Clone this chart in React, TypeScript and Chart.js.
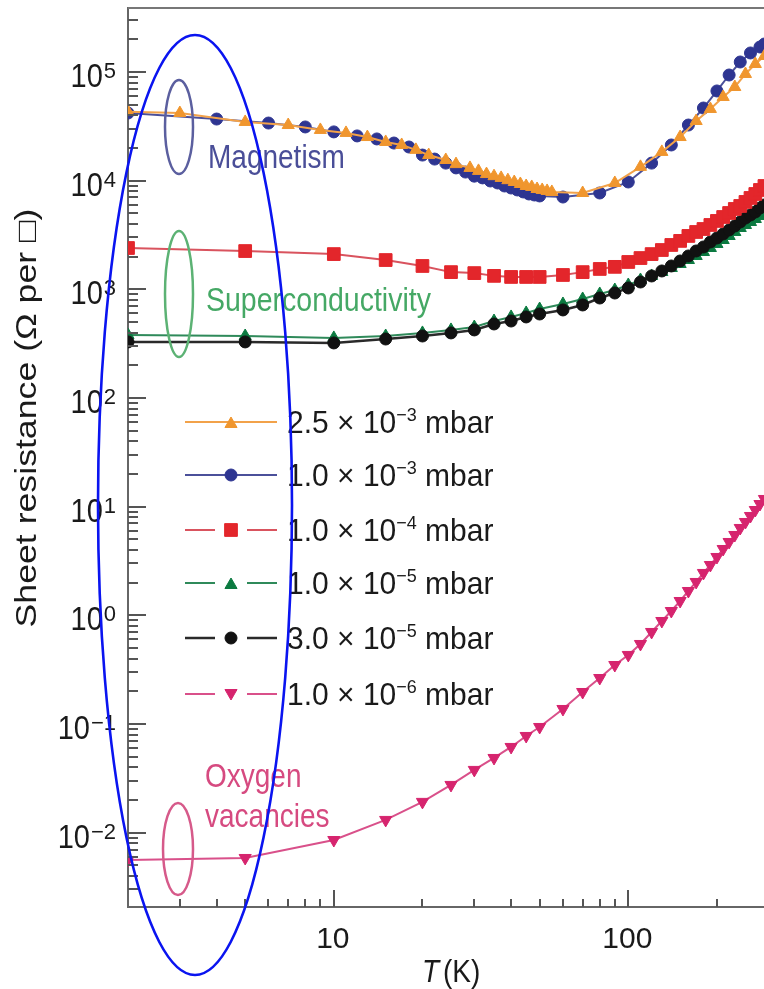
import React, { useEffect, useRef } from "react";
import { Chart, registerables } from "chart.js";
import { drawPoint } from "chart.js/helpers";

Chart.register(...registerables);

const FONT = '"Liberation Sans", Arial, Helvetica, sans-serif';

// ---------------- data (T in K, sheet resistance in ohm per square) ----------------
const tOrange = [2, 3, 5, 7, 9, 11, 13, 15, 17, 19, 21, 24, 26, 29, 31, 33, 35, 37, 39, 41, 43, 45, 47, 49, 51, 53, 55, 70, 90, 110, 130, 150, 170, 190, 210, 230, 250, 270, 290];
const rOrange = [43000, 41900, 34700, 32500, 29300, 27500, 25200, 22700, 21300, 19200, 17200, 15500, 14200, 13100, 12300, 11500, 11000, 10600, 10100, 9720, 9320, 8930, 8750, 8380, 8210, 8040, 7870, 7700, 9520, 13400, 18400, 25200, 35400, 45700, 58900, 72800, 95900, 118500, 140400];

const tBlue = [2, 4, 6, 8, 10, 12, 14, 16, 18, 20, 22, 24, 26, 28, 30, 32, 34, 36, 38, 40, 42, 44, 46, 48, 50, 60, 80, 100, 120, 140, 160, 180, 200, 220, 240, 260, 280, 290];
const rBlue = [41900, 36900, 33900, 31200, 28100, 25800, 24200, 22200, 20400, 17200, 15800, 14500, 13100, 12000, 11000, 10600, 9930, 9520, 8930, 8560, 8210, 7870, 7540, 7380, 7230, 7070, 7700, 9720, 14500, 21300, 32500, 46600, 66900, 93800, 123600, 149600, 169800, 181000];

const tRed = [2, 5, 10, 15, 20, 25, 30, 35, 40, 45, 50, 60, 70, 80, 90, 100, 110, 120, 130, 140, 150, 160, 170, 180, 190, 200, 210, 220, 230, 240, 250, 260, 270, 280, 290];
const rRed = [2400, 2250, 2110, 1860, 1640, 1440, 1410, 1330, 1300, 1300, 1300, 1355, 1440, 1540, 1610, 1785, 1940, 2110, 2300, 2560, 2790, 3100, 3370, 3590, 3910, 4260, 4630, 5040, 5490, 5850, 6370, 6930, 7540, 8210, 8930];

const tGreen = [2, 5, 10, 15, 20, 25, 30, 35, 40, 45, 50, 60, 70, 80, 90, 100, 110, 120, 130, 140, 150, 160, 170, 180, 190, 200, 210, 220, 230, 240, 250, 260, 270, 280, 290];
const rGreen = [380, 372, 357, 372, 397, 423, 450, 511, 557, 606, 659, 733, 815, 906, 986, 1096, 1219, 1327, 1444, 1572, 1711, 1862, 2027, 2206, 2401, 2614, 2844, 3096, 3371, 3669, 3909, 4166, 4439, 4731, 5040];

const tBlack = [2, 5, 10, 15, 20, 25, 30, 35, 40, 45, 50, 60, 70, 80, 90, 100, 110, 120, 130, 140, 150, 160, 170, 180, 190, 200, 210, 220, 230, 240, 250, 260, 270, 280, 290];
const rBlack = [328, 328, 321, 349, 372, 397, 423, 480, 511, 557, 593, 646, 718, 832, 925, 1029, 1168, 1327, 1475, 1640, 1823, 2027, 2253, 2453, 2727, 2968, 3230, 3516, 3827, 4166, 4534, 4833, 5150, 5604, 5973];

const tMagenta = [2, 5, 10, 15, 20, 25, 30, 35, 40, 45, 50, 60, 70, 80, 90, 100, 110, 120, 130, 140, 150, 160, 170, 180, 190, 200, 210, 220, 230, 240, 250, 260, 270, 280, 290];
const rMagenta = [0.00561, 0.00585, 0.00856, 0.0131, 0.0192, 0.0275, 0.0378, 0.0487, 0.0615, 0.0776, 0.0939, 0.1375, 0.197, 0.265, 0.349, 0.432, 0.545, 0.703, 0.887, 1.096, 1.355, 1.675, 2.028, 2.454, 2.906, 3.443, 4.078, 4.732, 5.488, 6.366, 7.228, 8.21, 9.32, 10.58, 11.77];

const legendMantissas = ["2.5", "1.0", "1.0", "1.0", "3.0", "1.0"];
const legendExponents = ["\u22123", "\u22123", "\u22124", "\u22125", "\u22125", "\u22126"];
const yDecades = [5, 4, 3, 2, 1, 0, -1, -2];
const xMajorTicks = [10, 100];
const xMinorTicks = [3, 4, 5, 6, 7, 8, 9, 20, 30, 40, 50, 60, 70, 80, 90, 200];

const X_MIN = 2;
const X_MAX = 289;
const Y_MIN = 2.07e-3;
const Y_MAX = 3.88e5;

// ---------------- styles ----------------
const seriesStyles = [
  { color: "#f0962e", line: "#f2a24a", style: "triangle", radius: 7, rot: 0, lw: 2, order: 0, gap: false },
  { color: "#2e3591", line: "#4b509a", style: "circle", radius: 6, rot: 0, lw: 2, order: 1, gap: false },
  { color: "#e3262b", line: "#d9535e", style: "rect", radius: 9, rot: 0, lw: 2, order: 2, gap: true },
  { color: "#0b7a40", line: "#2f8a5a", style: "triangle", radius: 7, rot: 0, lw: 2, order: 4, gap: true },
  { color: "#111111", line: "#2a2a2a", style: "circle", radius: 6, rot: 0, lw: 2.5, order: 3, gap: true },
  { color: "#d6246e", line: "#d9508a", style: "triangle", radius: 7, rot: 180, lw: 2, order: 5, gap: true },
];
const seriesData = [
  [tOrange, rOrange],
  [tBlue, rBlue],
  [tRed, rRed],
  [tGreen, rGreen],
  [tBlack, rBlack],
  [tMagenta, rMagenta],
];

function pts(t: number[], r: number[]) {
  return t.map((x, i) => ({ x, y: r[i] }));
}

function text(ctx: CanvasRenderingContext2D, s: string, x: number, y: number, size: number, k: number, align: CanvasTextAlign, color: string, style = "") {
  ctx.save();
  ctx.translate(x, y);
  ctx.scale(1, k);
  ctx.font = `${style} ${size}px ${FONT}`;
  ctx.textAlign = align;
  ctx.textBaseline = "alphabetic";
  ctx.fillStyle = color;
  ctx.fillText(s, 0, 0);
  const w = ctx.measureText(s).width;
  ctx.restore();
  return w;
}

function ellipse(ctx: CanvasRenderingContext2D, cx: number, cy: number, rx: number, ry: number, color: string, lw: number) {
  ctx.save();
  ctx.beginPath();
  ctx.ellipse(cx, cy, rx, ry, 0, 0, Math.PI * 2);
  ctx.strokeStyle = color;
  ctx.lineWidth = lw;
  ctx.stroke();
  ctx.restore();
}

function seg(ctx: CanvasRenderingContext2D, x1: number, y1: number, x2: number, y2: number) {
  ctx.beginPath();
  ctx.moveTo(x1, y1);
  ctx.lineTo(x2, y2);
  ctx.stroke();
}

const LEGEND_Y = [422, 475, 530, 583, 638, 694];

const overlayPlugin = {
  id: "overlay",
  afterDatasetsDraw(chart: any) {
    const ctx: CanvasRenderingContext2D = chart.ctx;
    // annotations
    ellipse(ctx, 179, 127, 14, 47, "#5b5f9f", 2.5);
    text(ctx, "Magnetism", 208, 168, 28, 1.19, "left", "#4a4e98");
    ellipse(ctx, 179, 294, 14, 63, "#5cb274", 2.5);
    text(ctx, "Superconductivity", 206, 311, 28.5, 1.19, "left", "#45a865");
    ellipse(ctx, 178, 849, 15, 46, "#d65a8a", 2.5);
    text(ctx, "Oxygen", 205, 787, 28, 1.19, "left", "#d64a80");
    text(ctx, "vacancies", 205, 827, 28, 1.19, "left", "#d64a80");

    // legend
    seriesStyles.forEach((s, i) => {
      const y = LEGEND_Y[i];
      ctx.save();
      ctx.strokeStyle = s.line;
      ctx.lineWidth = s.lw;
      if (s.gap) {
        seg(ctx, 185, y, 215, y);
        seg(ctx, 247, y, 277, y);
      } else {
        seg(ctx, 185, y, 277, y);
      }
      ctx.fillStyle = s.color;
      ctx.strokeStyle = s.color;
      ctx.lineWidth = 1;
      drawPoint(ctx, { pointStyle: s.style, rotation: s.rot, radius: s.radius, borderWidth: 1 } as any, 231, y + (s.style === "triangle" ? (s.rot ? -1 : 2) : 0));
      ctx.restore();
      let x = 287;
      x += text(ctx, legendMantissas[i] + " \u00d7 10", x, y + 11, 30, 1.05, "left", "#1a1a1a");
      x += text(ctx, legendExponents[i], x, y - 1, 18, 1.05, "left", "#1a1a1a");
      text(ctx, " mbar", x, y + 11, 30, 1.05, "left", "#1a1a1a");
    });
  },
  afterDraw(chart: any) {
    const ctx: CanvasRenderingContext2D = chart.ctx;
    const xs = chart.scales.x;
    const ys = chart.scales.y;
    const { left, right, top, bottom } = chart.chartArea;

    // top frame line
    ctx.save();
    ctx.strokeStyle = "#777";
    ctx.lineWidth = 2;
    seg(ctx, left, top, right + 2, top);

    // ticks
    ctx.strokeStyle = "#555";
    ctx.lineWidth = 2;
    for (let e = -3; e <= 5; e++) {
      for (let m = 1; m <= 9; m++) {
        const v = m * Math.pow(10, e);
        if (v < Y_MIN || v > Y_MAX) continue;
        const py = Math.round(ys.getPixelForValue(v));
        seg(ctx, left, py, left + (m === 1 ? 18 : 10), py);
      }
    }
    xMajorTicks.forEach((v) => {
      const px = Math.round(xs.getPixelForValue(v));
      seg(ctx, px, bottom, px, bottom - 17);
    });
    xMinorTicks.forEach((v) => {
      const px = Math.round(xs.getPixelForValue(v));
      seg(ctx, px, bottom, px, bottom - 8);
    });
    ctx.restore();

    // y tick labels
    yDecades.forEach((e) => {
      const py = ys.getPixelForValue(Math.pow(10, e));
      const expStr = e < 0 ? "\u2212" + String(-e) : String(e);
      const w = text(ctx, expStr, 116, py + 6, 22, 1.0, "right", "#1a1a1a");
      text(ctx, "10", 116 - w - 1, py + 15, 29, 1.17, "right", "#1a1a1a");
    });

    // x tick labels
    xMajorTicks.forEach((v) => {
      const px = xs.getPixelForValue(v);
      text(ctx, String(v), px - 1, 948, 30, 1.0, "center", "#1a1a1a");
    });

    // x title
    text(ctx, "T", 422, 982, 28, 1.15, "left", "#1a1a1a", "italic");
    text(ctx, "(K)", 443, 982, 28, 1.15, "left", "#1a1a1a");

    // y title (rotated)
    ctx.save();
    ctx.translate(36, 418);
    ctx.rotate(-Math.PI / 2);
    ctx.scale(1.23, 1);
    ctx.font = `29px ${FONT}`;
    ctx.textAlign = "center";
    ctx.textBaseline = "alphabetic";
    ctx.fillStyle = "#1a1a1a";
    ctx.fillText("Sheet resistance (\u03a9 per \u25a1)", 0, 0);
    ctx.restore();

    // hand-drawn blue ellipse annotation
    ellipse(ctx, 195, 505, 97, 470, "#0a14f0", 2.6);
  },
};

export default function App() {
  const ref = useRef<HTMLCanvasElement | null>(null);

  useEffect(() => {
    if (!ref.current) return;
    const datasets = seriesStyles.map((s, i) => ({
      label: legendMantissas[i] + " \u00d7 10" + legendExponents[i] + " mbar",
      data: pts(seriesData[i][0], seriesData[i][1]),
      borderColor: s.line,
      borderWidth: s.lw,
      backgroundColor: s.color,
      pointBackgroundColor: s.color,
      pointBorderColor: s.color,
      pointBorderWidth: 1,
      pointStyle: s.style,
      pointRotation: s.rot,
      pointRadius: s.radius,
      tension: 0,
      fill: false,
      order: s.order,
      clip: 0,
    }));

    const chart = new Chart(ref.current, {
      type: "line",
      data: { datasets } as any,
      options: {
        responsive: false,
        animation: false,
        devicePixelRatio: 1,
        parsing: false as any,
        layout: { autoPadding: false, padding: { top: 8, left: 0, right: 0, bottom: 0 } },
        plugins: { legend: { display: false }, tooltip: { enabled: false } },
        scales: {
          x: {
            type: "logarithmic",
            min: X_MIN,
            max: X_MAX,
            ticks: { display: false },
            grid: { display: false },
            border: { display: true, color: "#666", width: 2 },
            afterFit: (scale: any) => {
              scale.height = 82;
            },
          },
          y: {
            type: "logarithmic",
            min: Y_MIN,
            max: Y_MAX,
            ticks: { display: false },
            grid: { display: false },
            border: { display: true, color: "#666", width: 2 },
            afterFit: (scale: any) => {
              scale.width = 128;
            },
          },
        },
      } as any,
      plugins: [overlayPlugin],
    });
    return () => chart.destroy();
  }, []);

  return (
    <div style={{ position: "absolute", left: 0, top: 0, width: 764, height: 989, background: "#fff" }}>
      <canvas ref={ref} width={764} height={989} style={{ display: "block", width: 764, height: 989 }} />
    </div>
  );
}
